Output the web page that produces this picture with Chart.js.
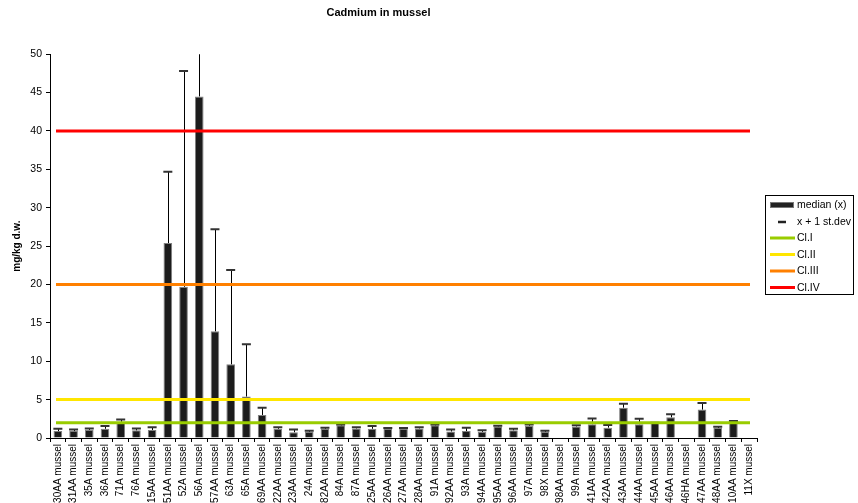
<!DOCTYPE html>
<html><head><meta charset="utf-8">
<script src="https://cdn.jsdelivr.net/npm/chart.js@4.4.1/dist/chart.umd.min.js"></script>
<style>html,body{margin:0;padding:0;background:#fff;}#wrap{width:858px;height:503px;position:relative;}</style>
</head><body><div id="wrap"><canvas id="c" width="858" height="503"></canvas></div>
<script>
const categories = ['30AA mussel','31AA mussel','35A mussel','36A mussel','71A mussel','76A mussel','15AA mussel','51AA mussel','52A mussel','56A mussel','57AA mussel','63A mussel','65A mussel','69AA mussel','22AA mussel','23AA mussel','24A mussel','82AA mussel','84A mussel','87A mussel','25AA mussel','26AA mussel','27AA mussel','28AA mussel','91A mussel','92AA mussel','93A mussel','94AA mussel','95AA mussel','96AA mussel','97A mussel','98X mussel','98AA mussel','99A mussel','41AA mussel','42AA mussel','43AA mussel','44AA mussel','45AA mussel','46AA mussel','46HA mussel','47AA mussel','48AA mussel','10AA mussel','11X mussel'];
const medianValues = [0.9,0.9,1.05,1.2,2.1,1.0,1.05,25.4,19.7,44.5,13.9,9.6,5.4,3.0,1.2,0.75,0.8,1.2,1.65,1.25,1.2,1.2,1.2,1.25,1.65,0.85,0.9,0.8,1.5,1.0,1.6,0.8,null,1.5,1.8,1.35,3.95,1.8,1.95,2.7,null,3.7,1.3,2.1,null];
const stdevTopValues = [1.2,1.1,1.25,1.55,2.4,1.25,1.4,34.7,47.8,56,27.2,21.9,12.2,3.95,1.4,1.1,0.95,1.35,1.75,1.4,1.55,1.3,1.3,1.4,1.75,1.1,1.35,1.0,1.6,1.2,1.75,0.95,null,1.65,2.55,1.7,4.45,2.5,2.0,3.1,null,4.55,1.45,2.2,null];
const classLimits = [2,5,20,40];
const classNames = ['Cl.I','Cl.II','Cl.III','Cl.IV'];
const classColors = ['#99CC00','#FFE600','#FF8000','#FF0000'];
const yTickMin = 0, yTickMax = 50, yTickStep = 5;
const legendNames = ['median (x)','x + 1 st.dev'].concat(classNames);

const FONT = "'Liberation Sans', Arial, sans-serif";

const overlayPlugin = {
  id: 'overlay',
  afterDatasetsDraw(chart) {
    const ctx = chart.ctx, x = chart.scales.x, y = chart.scales.y, ca = chart.chartArea;
    const meta = chart.getDatasetMeta(0);
    ctx.save();
    ctx.beginPath(); ctx.rect(ca.left, ca.top, ca.right - ca.left, ca.bottom - ca.top); ctx.clip();
    medianValues.forEach((v, i) => {
      const t = stdevTopValues[i];
      if (v === null || t === null) return;
      const px = meta.data[i].x;
      const yb = y.getPixelForValue(v), yt = y.getPixelForValue(t);
      ctx.strokeStyle = '#000'; ctx.lineWidth = 1;
      ctx.beginPath(); ctx.moveTo(Math.round(px) + 0.5, yb); ctx.lineTo(Math.round(px) + 0.5, yt); ctx.stroke();
      ctx.strokeStyle = '#333'; ctx.lineWidth = 2;
      ctx.beginPath(); ctx.moveTo(px - 4.5, yt); ctx.lineTo(px + 4.5, yt); ctx.stroke();
    });
    classLimits.forEach((lim, k) => {
      const py = y.getPixelForValue(lim);
      ctx.strokeStyle = classColors[k]; ctx.lineWidth = 3;
      ctx.beginPath(); ctx.moveTo(ca.left + 6, py); ctx.lineTo(ca.right - 7, py); ctx.stroke();
    });
    ctx.restore();
  },
  afterDraw(chart) {
    const ctx = chart.ctx, ca = chart.chartArea;
    const bx = ca.right + 8, by = 195, bw = 88, bh = 99;
    ctx.save();
    ctx.strokeStyle = '#000'; ctx.lineWidth = 1;
    ctx.strokeRect(Math.round(bx) + 0.5, by + 0.5, bw, bh);
    ctx.font = '10.5px ' + FONT; ctx.fillStyle = '#000'; ctx.textBaseline = 'middle'; ctx.textAlign = 'left';
    const rowY = [205, 222, 238, 254.5, 271, 287.5];
    legendNames.forEach((name, k) => {
      const yy = rowY[k];
      if (k === 0) {
        ctx.fillStyle = '#222'; ctx.fillRect(bx + 5, yy - 2.5, 24, 5);
        ctx.strokeStyle = '#777'; ctx.lineWidth = 1; ctx.strokeRect(bx + 5.5, yy - 2.5, 23, 5);
      } else if (k === 1) {
        ctx.strokeStyle = '#222'; ctx.lineWidth = 2.5;
        ctx.beginPath(); ctx.moveTo(bx + 13, yy); ctx.lineTo(bx + 21, yy); ctx.stroke();
      } else {
        ctx.strokeStyle = classColors[k - 2]; ctx.lineWidth = 3;
        ctx.beginPath(); ctx.moveTo(bx + 5, yy); ctx.lineTo(bx + 30, yy); ctx.stroke();
      }
      ctx.fillStyle = '#000';
      ctx.fillText(name, bx + 32, yy + 0.5);
    });
    ctx.restore();
  }
};

new Chart(document.getElementById('c'), {
  type: 'bar',
  data: {
    labels: categories,
    datasets: [{
      label: 'median (x)',
      data: medianValues,
      backgroundColor: '#1c1c1c',
      borderColor: '#808080',
      borderWidth: 1,
      categoryPercentage: 1,
      barPercentage: 0.55
    }]
  },
  options: {
    responsive: false,
    animation: false,
    layout: { padding: { left: 0, right: 101, top: 0, bottom: 0 } },
    plugins: {
      legend: { display: false },
      tooltip: { enabled: false },
      title: {
        display: true, text: 'Cadmium in mussel', color: '#000',
        font: { family: FONT, size: 11, weight: 'bold' },
        padding: { top: 6, bottom: 35 }
      }
    },
    scales: {
      x: {
        grid: { display: true, drawOnChartArea: false, tickLength: 4, color: '#000', offset: true },
        border: { color: '#000' },
        ticks: { autoSkip: false, minRotation: 90, maxRotation: 90, color: '#000', font: { family: FONT, size: 10 }, padding: 2 },
        afterFit(s) { s.height = 65; }
      },
      y: {
        min: yTickMin, max: yTickMax,
        grid: { display: true, drawOnChartArea: false, tickLength: 4, color: '#000' },
        border: { color: '#000' },
        ticks: { stepSize: yTickStep, color: '#000', font: { family: FONT, size: 10.5 }, padding: 4 },
        title: { display: true, text: 'mg/kg d.w.', color: '#000', font: { family: FONT, size: 10, weight: 'bold' }, padding: { top: 11, bottom: 0 } },
        afterFit(s) { s.width = 50; }
      }
    }
  },
  plugins: [overlayPlugin]
});
</script></body></html>
